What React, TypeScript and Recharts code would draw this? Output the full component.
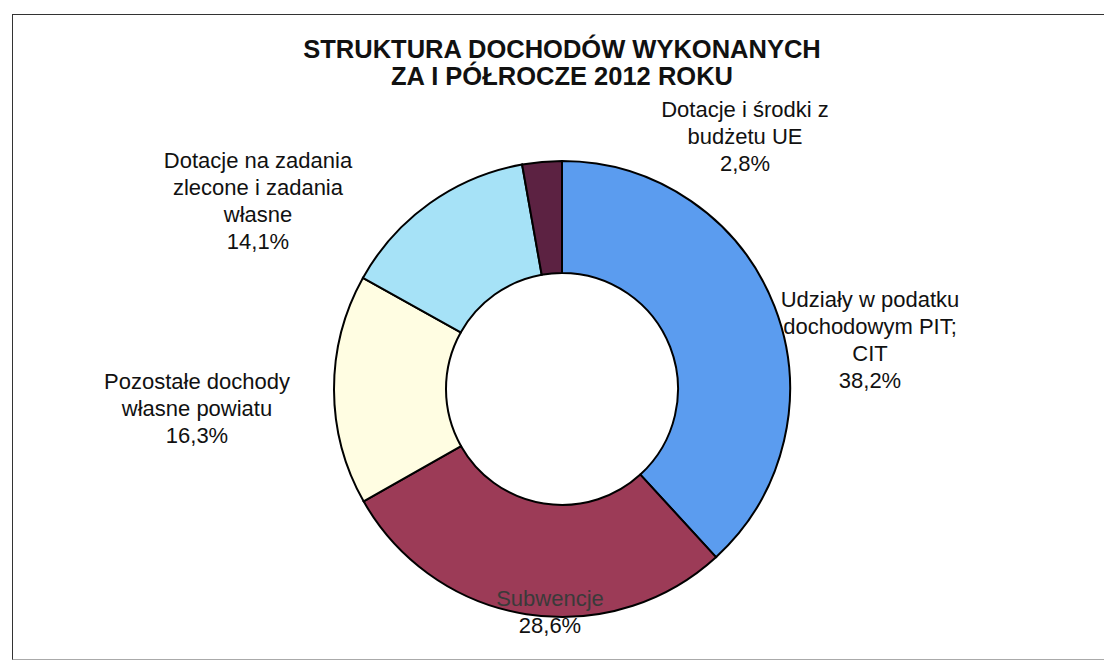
import { PieChart, Pie, Cell } from "recharts"

const categories = [
  "Udziały w podatku dochodowym PIT; CIT",
  "Subwencje",
  "Pozostałe dochody własne powiatu",
  "Dotacje na zadania zlecone i zadania własne",
  "Dotacje i środki z budżetu UE",
]
const shares = [38.2, 28.6, 16.3, 14.1, 2.8]
const shareLabels = ["38,2%", "28,6%", "16,3%", "14,1%", "2,8%"]
const labelLines = [
  ["Udziały w podatku", "dochodowym PIT;", "CIT"],
  ["Subwencje"],
  ["Pozostałe dochody", "własne powiatu"],
  ["Dotacje na zadania", "zlecone i zadania", "własne"],
  ["Dotacje i środki z", "budżetu UE"],
]
const colors = ["#5b9cef", "#9c3b57", "#fffde2", "#a6e2f7", "#5c2242"]

// label block anchors: centre x, first baseline y
const labelAnchors = [
  { x: 870, y: 307 },
  { x: 550, y: 606 },
  { x: 197, y: 389 },
  { x: 258, y: 168 },
  { x: 745, y: 117 },
]

const data = categories.map((name, i) => ({ name, value: shares[i] }))

const FONT = "'Liberation Sans', Arial, sans-serif"
const LINE_H = 27

function renderLabel(props: any) {
  const i = props.index
  const a = labelAnchors[i]
  const lines = [...labelLines[i], shareLabels[i]]
  return (
    <text x={a.x} y={a.y} textAnchor="middle" fontFamily={FONT} fontSize={22}>
      {lines.map((l, k) => (
        <tspan
          key={k}
          x={a.x}
          y={a.y + k * LINE_H}
          fill={i === 1 && k === 0 ? "#3a3a3a" : "#111"}
        >
          {l}
        </tspan>
      ))}
    </text>
  )
}

export default function App() {
  return (
    <div style={{ position: "absolute", left: 0, top: 0, width: 1104, height: 660, background: "#fff" }}>
      <div
        style={{
          position: "absolute",
          left: 12,
          top: 14,
          width: 1100,
          height: 644,
          borderTop: "1.5px solid #333",
          borderLeft: "1.5px solid #333",
          borderBottom: "1px solid #aaa",
        }}
      />
      <PieChart
        width={1104}
        height={660}
        margin={{ top: 0, right: 0, bottom: 0, left: 0 }}
        style={{ position: "absolute", left: 0, top: 0 }}
      >
        <text x={562} y={58} textAnchor="middle" fontFamily={FONT} fontSize={25.5} fontWeight="bold" fill="#111">
          STRUKTURA DOCHODÓW WYKONANYCH
        </text>
        <text x={562} y={85} textAnchor="middle" fontFamily={FONT} fontSize={25.5} fontWeight="bold" fill="#111">
          ZA I PÓŁROCZE 2012 ROKU
        </text>
        <Pie
          data={data}
          dataKey="value"
          nameKey="name"
          cx={562}
          cy={389}
          innerRadius={116}
          outerRadius={228}
          startAngle={90}
          endAngle={-270}
          stroke="#000"
          strokeWidth={2}
          label={renderLabel}
          labelLine={false}
          isAnimationActive={false}
        >
          {data.map((d, i) => (
            <Cell key={d.name} fill={colors[i]} />
          ))}
        </Pie>
      </PieChart>
    </div>
  )
}
